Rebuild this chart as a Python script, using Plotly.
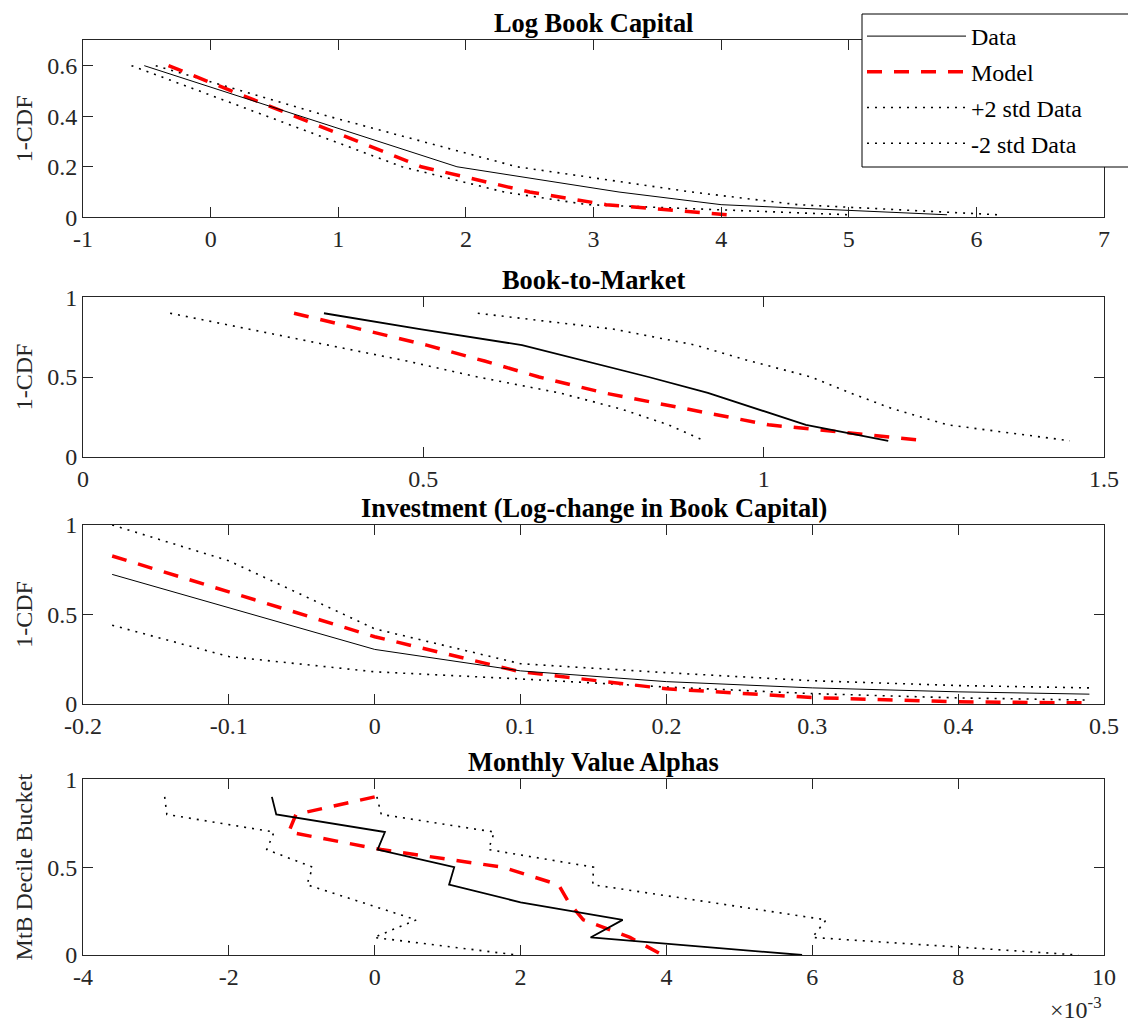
import plotly.graph_objects as go

# ---------------- data ----------------
# Panel 1: Log Book Capital (x values at fixed 1-CDF levels)
p1_levels = [0.6, 0.4, 0.2, 0.1, 0.05, 0.01]
p1_data = [-0.52, 0.71, 1.93, 3.2, 4.0, 5.77]
p1_model = [-0.33, 0.66, 1.65, 2.5, 3.1, 4.05]
p1_plus2 = [-0.43, 0.92, 2.4, 3.77, 4.6, 6.17]
p1_minus2 = [-0.62, 0.44, 1.5, 2.3, 2.95, 5.0]

# Panel 2: Book-to-Market
p2_levels = [0.9, 0.8, 0.7, 0.6, 0.5, 0.4, 0.3, 0.2, 0.1]
p2_data = [0.354, 0.495, 0.645, 0.738, 0.831, 0.918, 0.99, 1.062, 1.183]
p2_model = [0.31, 0.41, 0.505, 0.59, 0.67, 0.766, 0.889, 1.007, 1.24]
p2_plus2 = [0.58, 0.78, 0.90, 0.98, 1.07, 1.127, 1.19, 1.27, 1.45]
p2_minus2 = [0.128, 0.245, 0.36, 0.476, 0.58, 0.70, 0.79, 0.86, 0.913]

# Panel 3: Investment (1-CDF at fixed x grid)
p3_x = [-0.18, -0.1, 0.0, 0.1, 0.2, 0.3, 0.4, 0.49]
p3_data = [0.724, 0.538, 0.305, 0.185, 0.125, 0.09, 0.068, 0.055]
p3_model = [0.827, 0.627, 0.376, 0.18, 0.085, 0.036, 0.012, 0.006]
p3_plus2 = [1.0, 0.8, 0.42, 0.225, 0.175, 0.13, 0.103, 0.09]
p3_minus2 = [0.44, 0.265, 0.18, 0.14, 0.095, 0.058, 0.034, 0.022]

# Panel 4: Monthly Value Alphas (alphas in units of 1e-3 by decile bucket)
p4_buckets = [0.9, 0.8, 0.7, 0.6, 0.5, 0.4, 0.3, 0.2, 0.1, 0.0]
p4_data = [-1.41, -1.35, 0.14, 0.04, 1.09, 1.02, 2.0, 3.40, 2.96, 5.86]
p4_model = [0.0, -1.08, -1.18, 0.09, 1.75, 2.52, 2.66, 2.86, 3.5, 3.95]
p4_plus2 = [0.03, 0.09, 1.64, 1.56, 3.0, 2.99, 4.6, 6.19, 6.0, 9.65]
p4_minus2 = [-2.88, -2.85, -1.38, -1.48, -0.85, -0.93, -0.18, 0.57, -0.01, 1.95]
p4_scale = 1e-3

# tick labels
p1_xticks = [-1, 0, 1, 2, 3, 4, 5, 6, 7]
p1_yticks = [0, 0.2, 0.4, 0.6]
p2_xticks = [0, 0.5, 1, 1.5]
p3_xticks = [-0.2, -0.1, 0, 0.1, 0.2, 0.3, 0.4, 0.5]
p4_xticks = [-4, -2, 0, 2, 4, 6, 8, 10]
unit_yticks = [0, 0.5, 1]

titles = ["Log Book Capital", "Book-to-Market",
          "Investment (Log-change in Book Capital)", "Monthly Value Alphas"]
ylabels = ["1-CDF", "1-CDF", "1-CDF", "MtB Decile Bucket"]
legend_names = ["Data", "Model", "+2 std Data", "-2 std Data"]

# ---------------- styling ----------------
FONT = "Liberation Serif"
AX = "#262626"
OFF = 8                      # page body margin offset
W, H = 1136 - OFF, 1029 - OFF
PL, PR = 83, 1104            # plot-area left/right in page pixels
M_L = PL - OFF
M_R = OFF + W - PR
M_T = 32
M_B = OFF + H - 955
ph = H - M_T - M_B
pw = W - M_L - M_R

def frac(ypix):
    return (OFF + H - M_B - ypix) / ph

def xfrac(xpix):
    return (xpix - PL) / pw

domains = [
    [frac(217.3), frac(40.4)],
    [frac(456.7), frac(297.3)],
    [frac(704.0), frac(525.0)],
    [frac(955.0), frac(779.3)],
]

def lbl(v):
    return "%g" % v

fig = go.Figure()

def style(thick):
    lw_solid = 1.8 if thick else 1.0
    return [
        dict(color="black", width=lw_solid, dash="solid"),
        dict(color="#ff0000", width=3.5, dash="15px,12px"),
        dict(color="black", width=1.6, dash="2px,6px"),
        dict(color="black", width=1.6, dash="2px,6px"),
    ]

panels = [
    (p1_levels, [p1_data, p1_model, p1_plus2, p1_minus2], "xy"),
    (p2_levels, [p2_data, p2_model, p2_plus2, p2_minus2], "xy"),
    (p3_x, [p3_data, p3_model, p3_plus2, p3_minus2], "yx"),
    (p4_buckets, [[v * p4_scale for v in s] for s in [p4_data, p4_model, p4_plus2, p4_minus2]], "xy"),
]

for i, (common, series, mode) in enumerate(panels):
    sfx = "" if i == 0 else str(i + 1)
    lines = style(i in (1, 3))
    for k in [2, 3, 1, 0]:
        s = series[k]
        if mode == "xy":
            xs, ys = s, common
        else:
            xs, ys = common, s
        fig.add_trace(go.Scatter(
            x=xs, y=ys, mode="lines", line=lines[k],
            name=legend_names[k], showlegend=(i == 0),
            legendgroup="g%d" % k, legendrank=k + 1,
            xaxis="x" + sfx, yaxis="y" + sfx,
        ))

FS = 24
tickfont = dict(family=FONT, size=FS, color=AX)
common_ax = dict(showline=True, linecolor=AX, linewidth=1, mirror="ticks",
                 ticks="inside", ticklen=10, tickcolor=AX, tickwidth=1,
                 showgrid=False, zeroline=False, tickfont=tickfont,
                 automargin=False)

xcfg = [
    dict(range=[-1, 7], tickvals=p1_xticks, ticktext=[lbl(v) for v in p1_xticks]),
    dict(range=[0, 1.5], tickvals=p2_xticks, ticktext=[lbl(v) for v in p2_xticks]),
    dict(range=[-0.2, 0.5], tickvals=p3_xticks, ticktext=[lbl(v) for v in p3_xticks]),
    dict(range=[-4 * p4_scale, 10 * p4_scale], tickvals=[v * p4_scale for v in p4_xticks],
         ticktext=[lbl(v) for v in p4_xticks]),
]
ycfg = [
    dict(range=[0, 0.7], tickvals=p1_yticks, ticktext=[lbl(v) for v in p1_yticks]),
    dict(range=[0, 1], tickvals=unit_yticks, ticktext=[lbl(v) for v in unit_yticks]),
    dict(range=[0, 1], tickvals=unit_yticks, ticktext=[lbl(v) for v in unit_yticks]),
    dict(range=[0, 1], tickvals=unit_yticks, ticktext=[lbl(v) for v in unit_yticks]),
]

layout = dict(
    width=W, height=H,
    margin=dict(l=M_L, r=M_R, t=M_T, b=M_B, autoexpand=False),
    plot_bgcolor="white", paper_bgcolor="white",
    font=dict(family=FONT, size=FS, color=AX),
    showlegend=True,
    legend=dict(x=xfrac(862), xanchor="left",
                y=frac(14), yanchor="top",
                bgcolor="rgba(0,0,0,0)", borderwidth=0,
                font=dict(family=FONT, size=FS, color="black"),
                itemwidth=99, tracegroupgap=1.5, traceorder="grouped"),
    shapes=[dict(type="rect", xref="paper", yref="paper",
                 x0=xfrac(862), x1=xfrac(1140), y0=frac(167), y1=frac(14),
                 line=dict(color="black", width=1), fillcolor="white", layer="above")],
)

annotations = []
for i in range(4):
    sfx = "" if i == 0 else str(i + 1)
    xa = dict(common_ax, **xcfg[i], domain=[0, 1], anchor="y" + sfx)
    ya = dict(common_ax, **ycfg[i], domain=domains[i], anchor="x" + sfx,
              title=dict(text=ylabels[i], font=dict(family=FONT, size=FS, color=AX), standoff=7))
    layout["xaxis" + sfx] = xa
    layout["yaxis" + sfx] = ya
    annotations.append(dict(
        text="<b>%s</b>" % titles[i], xref="paper", yref="paper",
        x=0.5, y=domains[i][1], xanchor="center", yanchor="bottom", yshift=0,
        showarrow=False, font=dict(family=FONT, size=26.4, color="black")))

annotations.append(dict(
    text="×10<sup>-3</sup>", xref="paper", yref="paper", x=1.0, y=frac(1008),
    xanchor="right", yanchor="middle", showarrow=False,
    font=dict(family=FONT, size=FS, color=AX)))
layout["annotations"] = annotations

fig.update_layout(**layout)
fig.write_html("out.html")
